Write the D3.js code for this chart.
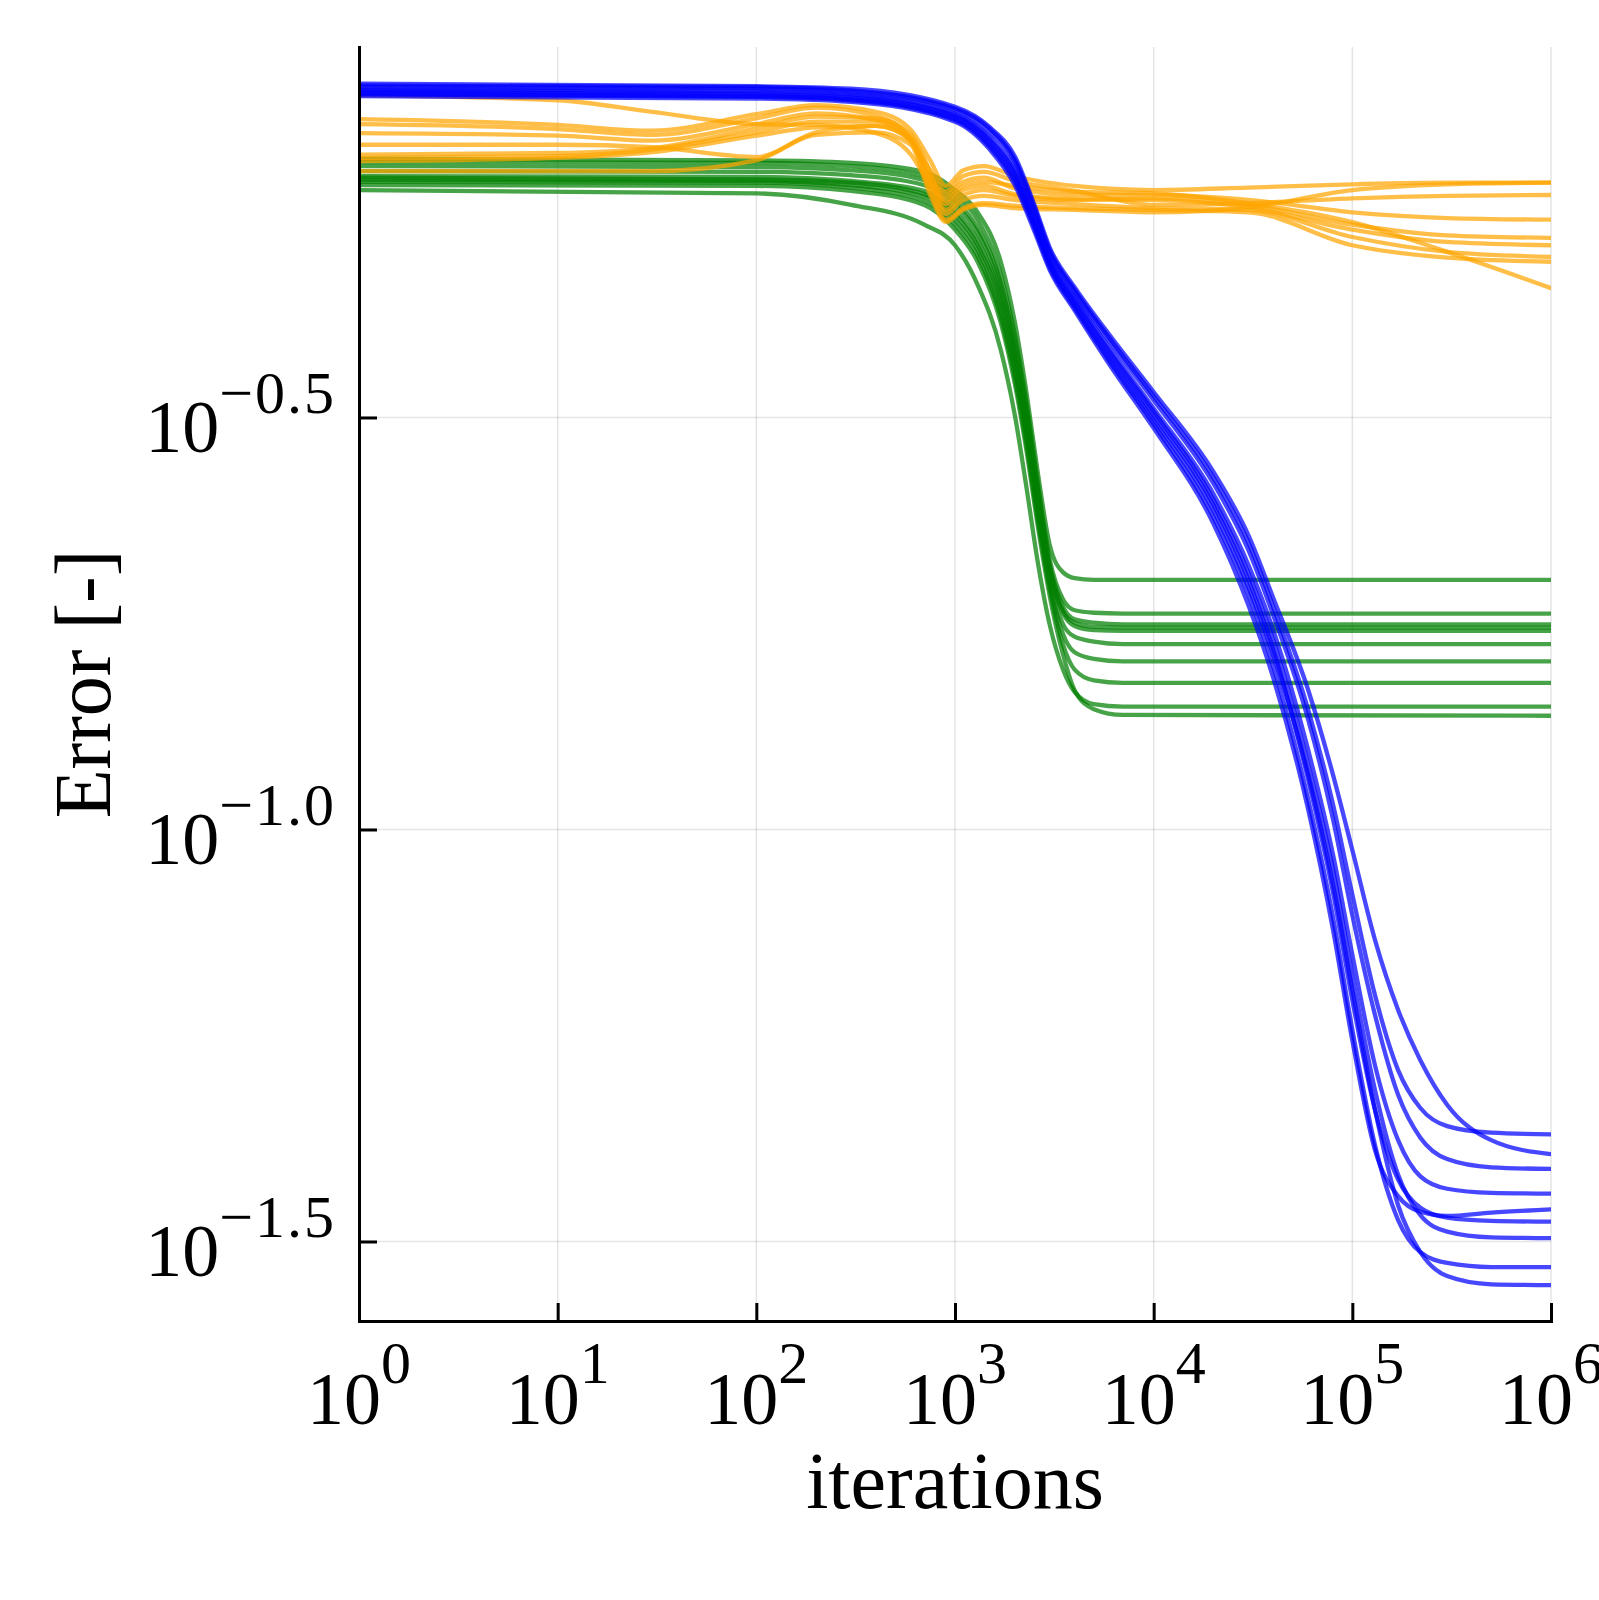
<!DOCTYPE html>
<html>
<head>
<meta charset="utf-8">
<script src="https://cdn.jsdelivr.net/npm/d3@7/dist/d3.min.js"></script>
<style>
  body { margin: 0; background: #fff; }
  text { font-family: "Liberation Serif", "DejaVu Serif", serif; fill: #000; }
</style>
</head>
<body>
<div id="chart"></div>
<script>
const greenIters = [1, 100, 300, 700, 1000, 1300, 1700, 2000, 2300, 2600, 3000, 3500, 4000, 5000, 7000, 1e6];
const orangeIters = [1, 10, 30, 100, 200, 400, 600, 750, 900, 1100, 1400, 2000, 4000, 1e4, 3e4, 1e5, 3e5, 1e6];
const blueIters = [1, 100, 300, 1000, 1500, 2000, 2500, 3000, 4000, 6000, 1e4, 2e4, 3e4, 4e4, 6e4, 8e4, 1e5, 1.3e5, 1.7e5, 2.2e5, 3e5, 5e5, 1e6];

// log10(error) of every run
const greenRuns = [
    [-0.186, -0.188, -0.191, -0.202, -0.224, -0.251, -0.311, -0.384, -0.473, -0.564, -0.655, -0.688, -0.695, -0.697, -0.697, -0.697],
    [-0.190, -0.191, -0.195, -0.207, -0.230, -0.260, -0.327, -0.400, -0.485, -0.576, -0.673, -0.721, -0.734, -0.737, -0.738, -0.738],
    [-0.195, -0.196, -0.200, -0.212, -0.236, -0.270, -0.337, -0.410, -0.495, -0.584, -0.679, -0.730, -0.745, -0.749, -0.751, -0.751],
    [-0.201, -0.202, -0.206, -0.218, -0.242, -0.276, -0.345, -0.418, -0.503, -0.592, -0.683, -0.735, -0.749, -0.754, -0.755, -0.755],
    [-0.207, -0.208, -0.213, -0.225, -0.249, -0.285, -0.354, -0.427, -0.512, -0.600, -0.688, -0.738, -0.753, -0.758, -0.759, -0.759],
    [-0.209, -0.211, -0.215, -0.229, -0.254, -0.291, -0.361, -0.434, -0.519, -0.607, -0.695, -0.751, -0.766, -0.772, -0.775, -0.775],
    [-0.212, -0.213, -0.218, -0.232, -0.260, -0.297, -0.370, -0.442, -0.527, -0.615, -0.702, -0.763, -0.785, -0.793, -0.796, -0.796],
    [-0.214, -0.215, -0.221, -0.237, -0.266, -0.304, -0.378, -0.452, -0.536, -0.622, -0.709, -0.776, -0.806, -0.819, -0.822, -0.822],
    [-0.218, -0.219, -0.225, -0.242, -0.272, -0.311, -0.385, -0.459, -0.543, -0.629, -0.717, -0.788, -0.831, -0.854, -0.861, -0.862],
    [-0.224, -0.228, -0.242, -0.266, -0.291, -0.339, -0.418, -0.497, -0.588, -0.673, -0.752, -0.806, -0.833, -0.848, -0.851, -0.851]
];

const orangeRuns = [
    [-0.109, -0.115, -0.129, -0.144, -0.145, -0.155, -0.181, -0.218, -0.236, -0.219, -0.214, -0.219, -0.226, -0.228, -0.240, -0.263, -0.299, -0.343],
    [-0.138, -0.145, -0.152, -0.132, -0.121, -0.129, -0.151, -0.188, -0.219, -0.200, -0.195, -0.207, -0.219, -0.224, -0.221, -0.217, -0.215, -0.215],
    [-0.144, -0.150, -0.157, -0.137, -0.124, -0.134, -0.161, -0.200, -0.226, -0.207, -0.202, -0.213, -0.225, -0.242, -0.240, -0.234, -0.231, -0.230],
    [-0.155, -0.158, -0.164, -0.144, -0.131, -0.139, -0.166, -0.209, -0.231, -0.214, -0.209, -0.222, -0.230, -0.230, -0.236, -0.251, -0.258, -0.260],
    [-0.169, -0.169, -0.172, -0.184, -0.154, -0.146, -0.163, -0.212, -0.248, -0.230, -0.224, -0.231, -0.236, -0.234, -0.242, -0.266, -0.279, -0.282],
    [-0.181, -0.179, -0.173, -0.149, -0.135, -0.137, -0.157, -0.202, -0.241, -0.224, -0.219, -0.229, -0.235, -0.236, -0.245, -0.272, -0.287, -0.291],
    [-0.185, -0.183, -0.175, -0.154, -0.141, -0.141, -0.161, -0.214, -0.253, -0.236, -0.231, -0.236, -0.241, -0.246, -0.248, -0.281, -0.299, -0.305],
    [-0.189, -0.185, -0.178, -0.158, -0.148, -0.146, -0.164, -0.224, -0.260, -0.246, -0.240, -0.243, -0.246, -0.248, -0.251, -0.291, -0.306, -0.311],
    [-0.201, -0.201, -0.201, -0.188, -0.157, -0.154, -0.169, -0.230, -0.263, -0.248, -0.242, -0.246, -0.248, -0.251, -0.245, -0.224, -0.217, -0.215]
];

const blueRuns = [
    [-0.095, -0.098, -0.101, -0.123, -0.148, -0.183, -0.241, -0.294, -0.342, -0.400, -0.469, -0.566, -0.643, -0.719, -0.831, -0.934, -1.025, -1.134, -1.219, -1.280, -1.334, -1.377, -1.394],
    [-0.097, -0.099, -0.103, -0.125, -0.150, -0.187, -0.244, -0.297, -0.345, -0.404, -0.474, -0.573, -0.652, -0.730, -0.855, -0.970, -1.079, -1.201, -1.292, -1.338, -1.360, -1.368, -1.370],
    [-0.099, -0.101, -0.105, -0.127, -0.154, -0.190, -0.248, -0.300, -0.348, -0.408, -0.479, -0.580, -0.661, -0.740, -0.867, -0.988, -1.104, -1.225, -1.322, -1.374, -1.400, -1.410, -1.412],
    [-0.102, -0.104, -0.108, -0.131, -0.160, -0.198, -0.255, -0.306, -0.354, -0.416, -0.489, -0.593, -0.679, -0.758, -0.904, -1.031, -1.152, -1.286, -1.377, -1.421, -1.436, -1.441, -1.442],
    [-0.103, -0.106, -0.110, -0.133, -0.163, -0.202, -0.259, -0.309, -0.357, -0.420, -0.493, -0.600, -0.689, -0.771, -0.922, -1.049, -1.177, -1.316, -1.419, -1.468, -1.488, -1.495, -1.496],
    [-0.105, -0.108, -0.112, -0.135, -0.166, -0.206, -0.262, -0.312, -0.361, -0.424, -0.498, -0.606, -0.697, -0.782, -0.940, -1.077, -1.207, -1.340, -1.425, -1.459, -1.471, -1.475, -1.476],
    [-0.107, -0.110, -0.114, -0.137, -0.169, -0.210, -0.266, -0.315, -0.364, -0.428, -0.503, -0.613, -0.706, -0.788, -0.934, -1.067, -1.195, -1.340, -1.456, -1.513, -1.542, -1.552, -1.553],
    [-0.108, -0.111, -0.115, -0.139, -0.172, -0.214, -0.269, -0.318, -0.367, -0.432, -0.508, -0.621, -0.715, -0.802, -0.964, -1.107, -1.243, -1.383, -1.474, -1.513, -1.526, -1.531, -1.531],
    [-0.110, -0.113, -0.117, -0.141, -0.175, -0.218, -0.273, -0.321, -0.370, -0.436, -0.513, -0.629, -0.728, -0.816, -0.976, -1.122, -1.256, -1.389, -1.445, -1.464, -1.469, -1.465, -1.461]
];

// ticks
const xTickExps = [0, 1, 2, 3, 4, 5, 6];
const yTickExps = [-0.5, -1.0, -1.5];
const yTickLabels = ['\u22120.5', '\u22121.0', '\u22121.5'];

const xLabel = 'iterations';
const yLabel = 'Error [-]';

const colors = { green: '#008000', orange: '#ffa500', blue: '#0000ff' };

function drawChart() {
    const width = 1599, height = 1600;
    const plot = { left: 359, right: 1551, top: 47, bottom: 1321 };

    const svg = d3.select('#chart')
        .append('svg')
        .attr('width', width)
        .attr('height', height);

    const x = d3.scaleLog()
        .domain([1, 1e6])
        .range([plot.left, plot.right]);

    const y = d3.scaleLog()
        .domain([Math.pow(10, -1.5965), Math.pow(10, -0.0504)])
        .range([plot.bottom, plot.top]);

    const xTicks = xTickExps.map(e => Math.pow(10, e));
    const yTicks = yTickExps.map(e => Math.pow(10, e));

    // grid
    const grid = svg.append('g')
        .attr('stroke', '#000')
        .attr('stroke-opacity', 0.1)
        .attr('stroke-width', 1.6);

    grid.selectAll('.vgrid')
        .data(xTicks)
        .enter()
        .append('line')
        .attr('x1', d => x(d))
        .attr('x2', d => x(d))
        .attr('y1', plot.top)
        .attr('y2', plot.bottom);

    grid.selectAll('.hgrid')
        .data(yTicks)
        .enter()
        .append('line')
        .attr('x1', plot.left)
        .attr('x2', plot.right)
        .attr('y1', d => y(d))
        .attr('y2', d => y(d));

    // curves
    svg.append('clipPath')
        .attr('id', 'plotClip')
        .append('rect')
        .attr('x', plot.left)
        .attr('y', plot.top)
        .attr('width', plot.right - plot.left)
        .attr('height', plot.bottom - plot.top);

    const curves = svg.append('g').attr('clip-path', 'url(#plotClip)');

    const groups = [
        { iters: greenIters, runs: greenRuns, color: colors.green },
        { iters: orangeIters, runs: orangeRuns, color: colors.orange },
        { iters: blueIters, runs: blueRuns, color: colors.blue }
    ];

    groups.forEach(grp => {
        const line = d3.line()
            .x((d, i) => x(grp.iters[i]))
            .y(d => y(Math.pow(10, d)))
            .curve(d3.curveMonotoneX);

        curves.append('g')
            .selectAll('path')
            .data(grp.runs)
            .enter()
            .append('path')
            .attr('d', line)
            .attr('fill', 'none')
            .attr('stroke', grp.color)
            .attr('stroke-opacity', 0.72)
            .attr('stroke-width', 4.3)
            .attr('stroke-linejoin', 'round')
            .attr('stroke-linecap', 'round');
    });

    // axes, ticks point into the plot
    const xAxis = svg.append('g')
        .attr('transform', `translate(0,${plot.bottom})`)
        .call(d3.axisBottom(x).tickValues(xTicks).tickSize(-18).tickSizeOuter(0).tickFormat(''));

    const yAxis = svg.append('g')
        .attr('transform', `translate(${plot.left},0)`)
        .call(d3.axisLeft(y).tickValues(yTicks).tickSize(-18).tickSizeOuter(0).tickFormat(''));

    [xAxis, yAxis].forEach(ax => {
        ax.select('.domain')
            .attr('stroke', '#000')
            .attr('stroke-width', 3)
            .attr('stroke-linecap', 'square');
        ax.selectAll('.tick line')
            .attr('stroke', '#000')
            .attr('stroke-width', 3);
    });

    // x tick labels 10^n
    xTickExps.forEach(e => {
        const t = svg.append('text')
            .attr('x', x(Math.pow(10, e)))
            .attr('y', 1424)
            .attr('text-anchor', 'middle')
            .style('font-size', '74px');
        t.append('tspan').text('10');
        t.append('tspan')
            .attr('dy', -41)
            .style('font-size', '60px')
            .text(e);
    });

    // y tick labels 10^-n
    yTickExps.forEach((e, i) => {
        const t = svg.append('text')
            .attr('x', 336)
            .attr('y', y(Math.pow(10, e)) + 35)
            .attr('text-anchor', 'end')
            .style('font-size', '74px');
        t.append('tspan').text('10');
        t.append('tspan')
            .attr('dy', -39)
            .style('font-size', '60px')
            .style('letter-spacing', '2px')
            .text(yTickLabels[i]);
    });

    // axis titles
    svg.append('text')
        .attr('x', (plot.left + plot.right) / 2)
        .attr('y', 1508)
        .attr('text-anchor', 'middle')
        .style('font-size', '80px')
        .text(xLabel);

    svg.append('text')
        .attr('transform', `translate(110,${(plot.top + plot.bottom) / 2}) rotate(-90)`)
        .attr('text-anchor', 'middle')
        .style('font-size', '80px')
        .text(yLabel);
}

drawChart();
</script>
</body>
</html>
